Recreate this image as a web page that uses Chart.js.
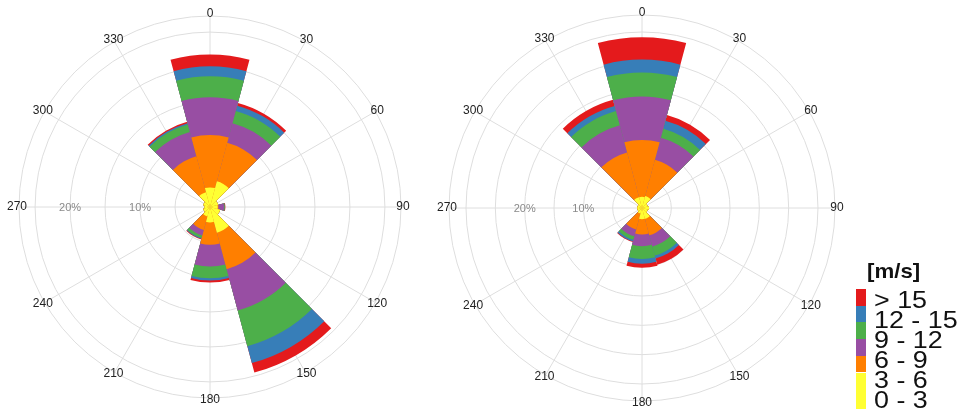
<!DOCTYPE html>
<html>
<head>
<meta charset="utf-8">
<title>Wind roses</title>
<script src="https://cdn.jsdelivr.net/npm/chart.js@4.4.1/dist/chart.umd.min.js"></script>
<style>
  html, body { margin: 0; padding: 0; background: #fff; }
  body { width: 961px; height: 409px; position: relative; overflow: hidden; font-family: "Liberation Sans", Arial, sans-serif; }
  canvas { position: absolute; top: 0; }
  #roseA { left: 0; }
  #roseB { left: 420px; }
  #legend { position: absolute; left: 0; top: 0; width: 961px; height: 409px; pointer-events: none; }
  #legend .title { position: absolute; left: 867px; top: 259px; font-size: 21px; font-weight: bold; color: #111; transform: scaleX(1.06); transform-origin: left center; }
  #legend .swatch { position: absolute; left: 856px; width: 10px; }
  #legend .txt { position: absolute; left: 874px; font-size: 24px; line-height: 24px; color: #111; white-space: nowrap; transform: scaleX(1.12); transform-origin: left center; }
</style>
</head>
<body>
<canvas id="roseA" width="420" height="409"></canvas>
<canvas id="roseB" width="430" height="409"></canvas>
<div id="legend"></div>
<script>
const directions = ['0', '30', '60', '90', '120', '150', '180', '210', '240', '270', '300', '330'];
const speedClasses = ['0 - 3', '3 - 6', '6 - 9', '9 - 12', '12 - 15', '> 15'];
const classColors = ['#ffff33', '#ff7f00', '#984ea3', '#4daf4a', '#377eb8', '#e41a1c'];

// frequency of each speed class per sector (%), left rose
const left0to3   = [2.8, 3.8, 1.2, 1.1, 1.5, 3.8, 2.2, 1.4, 1.0, 0.8, 1.0, 2.2];
const left3to6   = [7.5, 5.7, 0, 0.1, 0, 5.4, 3.2, 2.0, 0, 0, 0, 5.3];
const left6to9   = [5.4, 2.9, 0, 0.8, 0, 6.1, 3.1, 0.8, 0, 0, 0, 3.6];
const left9to12  = [3.0, 1.8, 0, 0.1, 0, 5.3, 1.7, 0.4, 0, 0, 0, 1.1];
const left12to15 = [1.4, 0.8, 0, 0, 0, 2.5, 0.3, 0.1, 0, 0, 0, 0.2];
const leftOver15 = [1.7, 0.4, 0, 0.1, 0, 1.4, 0.3, 0.1, 0, 0, 0, 0.2];

// right rose
const right0to3   = [1.9, 2.1, 1.0, 1.2, 1.0, 1.9, 1.9, 1.0, 0.8, 0.8, 0.8, 1.9];
const right3to6   = [9.7, 6.4, 0, 0, 0, 2.9, 2.6, 2.8, 0, 0, 0, 7.9];
const right6to9   = [7.4, 3.9, 0, 0, 0, 2.0, 2.0, 1.2, 0, 0, 0, 4.8];
const right9to12  = [4.1, 1.6, 0, 0, 0, 1.6, 2.2, 0.6, 0, 0, 0, 2.5];
const right12to15 = [2.2, 1.4, 0, 0, 0, 0.5, 0.8, 0.3, 0, 0, 0, 0.9];
const rightOver15 = [3.8, 1.0, 0, 0, 0, 1.1, 0.7, 0.1, 0, 0, 0, 1.1];

// grid rings (%), last one is the outer edge
const leftRings = [0, 5, 10, 15, 20, 25, 27.3];
const rightRings = [0, 5, 10, 15, 20, 25, 30, 32.9];
const ringLabels = [10, 20];

const gridColor = '#dedede';

// polarArea can't stack, so each class is drawn as the running total;
// dataset 0 ends up on top, so the calm class goes first
function stacked(bins) {
  const run = directions.map(() => 0);
  return bins.map((vals, k) => {
    vals.forEach((v, i) => { run[i] += v; });
    return {
      label: speedClasses[k],
      data: run.map((v) => +v.toFixed(2)),
      backgroundColor: classColors[k],
      borderWidth: 0,
    };
  });
}

// spokes through sector centres, direction labels and % labels
const roseDecor = {
  id: 'roseDecor',
  beforeDatasetsDraw(chart) {
    const r = chart.scales.r;
    const ctx = chart.ctx;
    const half = Math.PI / directions.length;
    ctx.save();
    ctx.strokeStyle = gridColor;
    ctx.lineWidth = 1;
    directions.forEach((d, i) => {
      const p = r.getPointPosition(i, r.drawingArea, half);
      ctx.beginPath();
      ctx.moveTo(r.xCenter, r.yCenter);
      ctx.lineTo(p.x, p.y);
      ctx.stroke();
    });
    ctx.restore();
  },
  afterDraw(chart) {
    const r = chart.scales.r;
    const ctx = chart.ctx;
    const half = Math.PI / directions.length;
    ctx.save();
    ctx.textAlign = 'center';
    ctx.textBaseline = 'middle';
    ctx.font = '12px "Liberation Sans", Arial, sans-serif';
    ctx.fillStyle = '#222';
    directions.forEach((d, i) => {
      const p = r.getPointPosition(i, r.drawingArea + 2, half);
      ctx.fillText(d, p.x, p.y);
    });
    ctx.font = '11px "Liberation Sans", Arial, sans-serif';
    ctx.fillStyle = '#8a8a8a';
    ringLabels.forEach((v) => {
      const dist = r.getDistanceFromCenterForValue(v);
      ctx.fillText(v + '%', r.xCenter - dist, r.yCenter + 1);
    });
    ctx.restore();
  },
};

function makeRose(id, bins, rings, padding) {
  return new Chart(document.getElementById(id), {
    type: 'polarArea',
    data: { labels: directions, datasets: stacked(bins) },
    options: {
      responsive: false,
      animation: false,
      layout: { padding },
      plugins: { legend: { display: false }, tooltip: { enabled: false } },
      scales: {
        r: {
          startAngle: -15,
          min: 0,
          max: rings[rings.length - 1],
          afterBuildTicks: (scale) => {
            scale.ticks = rings.map((v) => ({ value: v }));
          },
          ticks: { display: false },
          pointLabels: { display: false },
          angleLines: { display: false },
          grid: { circular: true, color: gridColor, lineWidth: 1 },
        },
      },
    },
    plugins: [roseDecor],
  });
}

makeRose('roseA', [left0to3, left3to6, left6to9, left9to12, left12to15, leftOver15], leftRings,
  { left: 19, right: 19, top: 16, bottom: 11 });
makeRose('roseB', [right0to3, right3to6, right6to9, right9to12, right12to15, rightOver15], rightRings,
  { left: 29, right: 15, top: 15, bottom: 8 });

// speed class key, largest class first
const legend = document.getElementById('legend');
const title = document.createElement('div');
title.className = 'title';
title.textContent = '[m/s]';
legend.appendChild(title);
const order = speedClasses.map((s, k) => k).reverse();
order.forEach((k, row) => {
  const sw = document.createElement('div');
  sw.className = 'swatch';
  sw.style.top = (289 + row * 16.7) + 'px';
  sw.style.height = (row === order.length - 1 ? 40 : 16.7) + 'px';
  sw.style.background = classColors[k];
  legend.appendChild(sw);
  const t = document.createElement('div');
  t.className = 'txt';
  t.style.top = (288 + row * 20) + 'px';
  t.textContent = speedClasses[k];
  legend.appendChild(t);
});
</script>
</body>
</html>
